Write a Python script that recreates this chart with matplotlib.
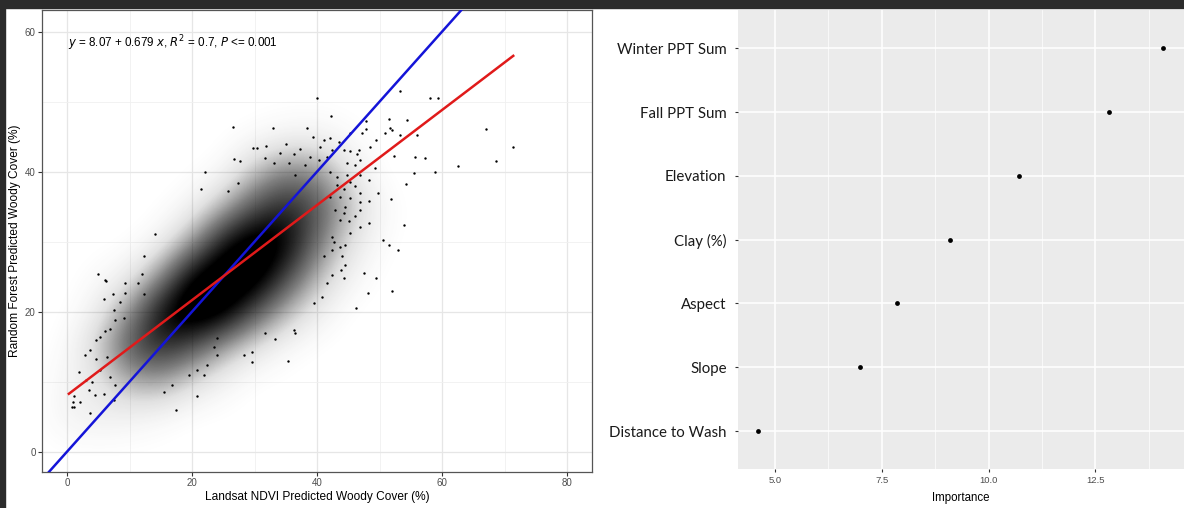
import numpy as np
import matplotlib
matplotlib.use('Agg')
import matplotlib.pyplot as plt
from matplotlib.colors import LinearSegmentedColormap
from matplotlib.patches import Rectangle

# ---- left panel: observed vs predicted woody cover ----
# darkness of the dense point cloud, read off the picture on a 5% grid
cloud_x = [-5, 0, 5, 10, 15, 20, 25, 30, 35, 40, 45, 50, 55, 60, 65, 70]
cloud_y = [0, 5, 10, 15, 20, 25, 30, 35, 40, 45, 50, 55]
cloud_density = [
    [0, 0, 0, 0, 0, 0, 0, 0, 0, 0, 0, 0, 0, 0, 0, 0],
    [0, .06, .08, .06, .03, 0, 0, 0, 0, 0, 0, 0, 0, 0, 0, 0],
    [0, .05, .12, .28, .30, .15, .05, 0, 0, 0, 0, 0, 0, 0, 0, 0],
    [0, .02, .20, .55, .70, .55, .30, .12, .03, 0, 0, 0, 0, 0, 0, 0],
    [0, 0, .08, .35, .80, 1.0, .90, .55, .25, .08, 0, 0, 0, 0, 0, 0],
    [0, 0, .02, .08, .35, .85, 1.0, .95, .60, .25, .06, 0, 0, 0, 0, 0],
    [0, 0, 0, 0, .05, .30, .75, .95, .85, .45, .15, .02, 0, 0, 0, 0],
    [0, 0, 0, 0, 0, .05, .25, .55, .70, .55, .25, .04, 0, 0, 0, 0],
    [0, 0, 0, 0, 0, 0, .03, .22, .40, .35, .12, 0, 0, 0, 0, 0],
    [0, 0, 0, 0, 0, 0, 0, .02, .05, .06, .02, 0, 0, 0, 0, 0],
    [0, 0, 0, 0, 0, 0, 0, 0, 0, 0, 0, 0, 0, 0, 0, 0],
    [0, 0, 0, 0, 0, 0, 0, 0, 0, 0, 0, 0, 0, 0, 0, 0],
]

# single points around the dense cloud
fringe_pts = [
    (26.6, 46.4), (33.0, 46.2), (29.7, 43.4), (30.4, 43.4), (31.9, 43.7), (35.0, 44.0),
    (22.1, 39.9), (27.3, 38.4), (21.5, 37.5), (14.0, 31.1), (25.7, 37.3), (26.7, 41.8),
    (27.7, 41.5), (4.9, 25.4), (6.3, 24.4), (7.4, 22.6), (9.2, 22.7), (4.6, 16.0),
    (3.7, 14.5), (0.8, 6.4), (0.9, 7.1), (3.7, 5.5), (17.5, 6.0), (20.8, 8.0),
    (35.3, 13.0), (29.6, 12.8), (33.2, 16.1), (36.3, 17.4), (31.7, 16.9),
    (40.0, 50.6), (53.2, 51.6), (58.1, 50.6), (59.4, 50.5), (42.2, 47.9), (38.4, 46.3),
    (51.5, 47.6), (54.4, 47.4), (56.0, 45.2), (67.1, 46.1), (71.4, 43.6), (68.7, 41.5),
    (62.5, 40.8), (58.9, 39.9), (55.5, 39.8), (54.3, 38.2), (57.2, 41.9), (55.7, 42.1),
    (53.9, 32.4), (51.9, 36.1), (50.6, 30.2), (52.9, 28.8), (48.3, 32.7), (49.8, 37.0),
    (48.3, 35.8), (52.3, 42.2), (53.3, 45.2), (47.9, 46.1), (51.6, 46.2), (46.4, 42.6),
    (44.5, 26.7), (44.3, 24.8), (47.5, 25.6), (49.5, 24.8), (48.1, 22.7), (52.0, 23.0),
    (46.2, 20.6), (39.5, 21.3), (40.8, 22.1), (41.6, 24.1), (42.4, 25.2), (43.8, 26.0),
    (6.1, 24.5), (12.3, 27.9), (36.5, 16.9), (28.3, 13.8), (29.6, 14.3),
    (42.7, 30.0), (45.1, 32.9), (44.3, 34.1),
    # lower-left fringe
    (5.9, 21.8), (8.4, 21.4), (6.0, 17.3), (2.8, 13.8), (1.9, 11.4), (1.1, 7.9),
    (1.1, 6.4), (2.1, 7.1), (3.5, 8.8), (4.0, 10.0), (3.1, 10.2), (5.2, 11.7),
    (4.4, 8.1), (5.9, 8.3), (6.9, 10.7), (7.7, 9.5), (7.5, 7.4), (15.5, 8.6),
    (16.8, 9.5), (19.5, 11.0), (20.8, 11.7), (21.9, 11.0), (22.4, 12.4), (24.0, 13.8),
    (24.0, 16.2), (23.5, 15.0), (12.3, 22.6), (11.3, 24.1), (12.0, 25.4), (9.3, 24.1),
    (7.5, 20.2), (9.1, 19.1), (7.7, 18.8), (5.3, 16.4), (6.9, 17.6), (6.4, 13.6),
    (4.7, 13.3),
    # upper-right fringe
    (39.4, 45.0), (41.1, 44.5), (42.1, 44.8), (43.5, 44.3), (37.3, 43.3), (36.3, 42.6),
    (34.1, 42.7), (31.7, 41.9), (33.1, 41.2), (35.5, 41.2), (45.2, 45.5), (47.2, 45.5),
    (47.9, 47.3), (49.5, 44.5), (48.5, 43.6), (50.9, 45.5), (52.0, 46.0), (46.9, 41.7),
    (49.3, 40.5), (48.3, 38.8), (46.9, 35.7), (46.9, 34.5), (46.1, 33.6), (46.9, 32.1),
    (51.5, 29.5), (43.7, 29.3), (44.5, 29.5), (45.3, 31.2), (42.4, 30.7), (43.7, 33.1),
    (42.9, 34.5), (44.5, 35.0), (43.7, 36.4), (45.3, 36.2), (46.9, 36.9), (46.1, 37.9),
    (44.3, 37.6), (45.3, 38.6), (42.1, 36.4), (43.2, 39.3), (44.8, 39.5), (46.9, 39.5),
    (46.1, 41.0), (44.8, 41.2), (46.7, 43.1), (45.3, 42.9), (44.3, 43.1), (42.4, 43.1),
    (41.6, 42.1), (40.3, 41.7), (38.9, 42.1), (40.5, 43.6), (38.1, 41.0), (42.1, 40.0),
    (36.5, 39.5), (43.2, 38.1), (42.4, 28.8), (44.0, 27.9), (41.1, 27.9),
]

fit_intercept = 8.07
fit_slope = 0.679
fit_xrange = [0.3, 71.4]

# ---- right panel: variable importance ----
variables = ['Winter PPT Sum', 'Fall PPT Sum', 'Elevation', 'Clay (%)',
             'Aspect', 'Slope', 'Distance to Wash']
importance = [14.08, 12.82, 10.71, 9.10, 7.86, 7.00, 4.60]

plt.rcParams['font.family'] = ['Liberation Sans', 'DejaVu Sans']
label_font = ['Lato', 'Liberation Sans', 'DejaVu Sans']
tick_grey = '#4d4d4d'

fig = plt.figure(figsize=(11.84, 5.08), dpi=100)
W, H = 1184, 508

# dark screenshot frame at top and left
fig.patches.append(Rectangle((0, 1 - 8 / H), 1, 8 / H, transform=fig.transFigure,
                             color='#2b2b2b', zorder=-5))
fig.patches.append(Rectangle((0, 0), 5 / W, 1, transform=fig.transFigure,
                             color='#2b2b2b', zorder=-5))

# ---------- scatter panel ----------
ax = fig.add_axes([42 / W, 1 - 472 / H, 550 / W, 462 / H])
ax.set_axisbelow(True)
ax.set_xticks([0, 20, 40, 60, 80])
ax.set_yticks([0, 20, 40, 60])
ax.set_xticks([10, 30, 50, 70], minor=True)
ax.set_yticks([10, 30, 50], minor=True)
ax.grid(True, which='major', color='#e6e6e6', lw=0.9)
ax.grid(True, which='minor', color='#f0f0f0', lw=0.6)
ax.tick_params(which='minor', length=0)
ax.tick_params(which='major', length=3, width=0.8, color='#333333',
               labelsize=7, labelcolor=tick_grey, pad=1.5)

# transparent -> black; faint fog at the edges, core saturates near the top
cmap = LinearSegmentedColormap.from_list(
    'cloud', [(0.0, (0, 0, 0, 0)), (0.15, (0, 0, 0, 0.12)), (0.4, (0, 0, 0, 0.5)),
              (0.8, (0, 0, 0, 1)), (1.0, (0, 0, 0, 1))])
ax.imshow(np.array(cloud_density), cmap=cmap, vmin=0, vmax=1, origin='lower',
          extent=[cloud_x[0] - 2.5, cloud_x[-1] + 2.5, cloud_y[0] - 2.5, cloud_y[-1] + 2.5],
          aspect='auto', interpolation='bicubic', zorder=1)
fp = np.array(fringe_pts)
ax.scatter(fp[:, 0], fp[:, 1], s=3, color='black', lw=0, zorder=2)

ax.axline((0, 0), slope=1, color='#1414d8', lw=1.8, zorder=3)
fx = np.array(fit_xrange)
ax.plot(fx, fit_intercept + fit_slope * fx, color='#e01a1a', lw=1.8, zorder=4)

ax.text(0.2, 58.4, r'$\it{y}$ = 8.07 + 0.679 $\it{x}$, $\it{R}^2$ = 0.7, $\it{P}$ <= 0.001',
        fontsize=8.4, ha='left', va='center')

ax.set_xlim(-4, 84)
ax.set_ylim(-2.9, 63.1)
for s in ax.spines.values():
    s.set_color('#555555')
    s.set_linewidth(0.9)
ax.set_xlabel('Landsat NDVI Predicted Woody Cover (%)', fontsize=8.6)
ax.set_ylabel('Random Forest Predicted Woody Cover (%)', fontsize=8.6)
ax.xaxis.set_label_coords(0.5, -0.041)
ax.yaxis.set_label_coords(-0.038, 0.5)

# ---------- importance panel ----------
ax2 = fig.add_axes([737.7 / W, 1 - 469.3 / H, (W - 737.7) / W, 459.3 / H])
ax2.set_facecolor('#ebebeb')
ax2.set_axisbelow(True)
ypos = np.arange(len(variables))[::-1]
ax2.scatter(importance, ypos, s=12, color='black', lw=0, zorder=3)
ax2.set_yticks(ypos)
ax2.set_yticklabels(variables, family=label_font, fontsize=10.8)
ax2.set_xticks([5.0, 7.5, 10.0, 12.5])
ax2.set_xticklabels(['5.0', '7.5', '10.0', '12.5'])
ax2.set_xticks([6.25, 8.75, 11.25, 13.75], minor=True)
ax2.grid(True, which='major', color='white', lw=1.1)
ax2.grid(True, which='minor', axis='x', color='white', lw=0.5)
ax2.tick_params(which='minor', length=0)
ax2.tick_params(which='major', length=2.5, width=0.8, color='#333333')
ax2.tick_params(axis='x', labelsize=6.8, labelcolor=tick_grey, pad=2)
ax2.tick_params(axis='y', labelcolor='#1a1a1a', pad=5.5)
ax2.set_xlim(4.125, 14.575)
ax2.set_ylim(-0.6, len(variables) - 0.4)
for s in ax2.spines.values():
    s.set_visible(False)
ax2.set_xlabel('Importance', fontsize=8.3)
ax2.xaxis.set_label_coords(0.5, -0.049)

fig.savefig('out.png', dpi=100)
